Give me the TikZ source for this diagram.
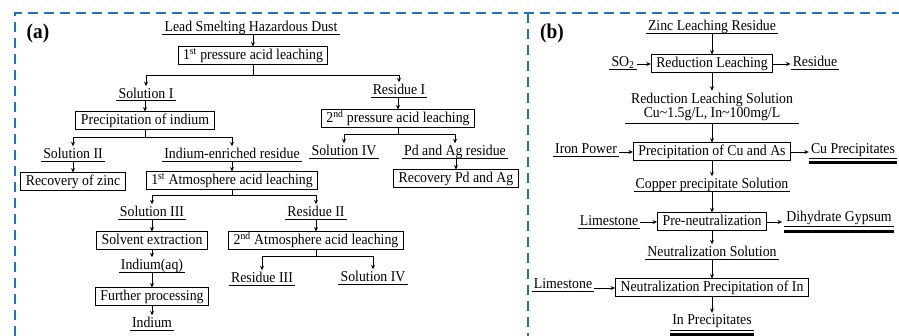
\documentclass[tikz,border=0pt]{standalone}
\usepackage{fontspec}
\setmainfont{Liberation Serif}[FakeStretch=0.92]
\usetikzlibrary{arrows.meta,calc}
\definecolor{framecol}{RGB}{31,113,196}
\begin{document}
\begin{tikzpicture}[x=1pt,y=-1pt,
  font=\fontsize{15}{13}\selectfont,
  box/.style={draw,line width=1pt,inner xsep=5pt,inner ysep=2.5pt,text height=10.5pt,text depth=2.5pt,anchor=center},
  ul/.style={anchor=base,inner xsep=2pt,inner ysep=0pt,text height=12pt,text depth=2.4pt,
    append after command={(\tikzlastnode.south west) edge[line width=0.9pt] (\tikzlastnode.south east)}},
  dul/.style={anchor=base,inner xsep=2pt,inner ysep=2.5pt,text height=9.5pt,text depth=2.4pt,
    append after command={(\tikzlastnode.south west) edge[line width=0.7pt] (\tikzlastnode.south east)
      ([yshift=-4.5pt]\tikzlastnode.south west) edge[line width=3pt] ([yshift=-4.5pt]\tikzlastnode.south east)}},
  arr/.style={line width=0.9pt,-{Stealth[length=4.5pt,width=4pt]}},
  frame/.style={framecol,line width=2.2pt,dash pattern=on 10pt off 6pt},
  tag/.style={font=\fontsize{21}{24}\selectfont\bfseries}
]
\path[use as bounding box] (0,0) rectangle (899,336);
% frame
\draw[frame] (15,336) -- (15,13) -- (899,13);
\draw[frame] (528,13) -- (528,336);

% ---------- panel (a) ----------
\node[tag] (ta) at (38,33) {(a)};
\node[ul] (lead) at (251,31.5) {Lead Smelting Hazardous Dust};
\node[box] (b1) at (253,56) {1\textsuperscript{st} pressure acid leaching};
\node[ul] (sol1) at (146,98.3) {Solution I};
\node[ul] (res1) at (399,94.5) {Residue I};
\node[box] (p1) at (145,121) {Precipitation of indium};
\node[ul] (sol2) at (73,158.5) {Solution II};
\node[ul] (ier) at (232,158.5) {Indium-enriched residue};
\node[box] (rz) at (73,182) {Recovery of zinc};
\node[box] (a1) at (232,181) {1\textsuperscript{st} Atmosphere acid leaching};
\node[ul] (sol3) at (152,216.5) {Solution III};
\node[ul] (res2) at (316,216.5) {Residue II};
\node[box] (se) at (152,241) {Solvent extraction};
\node[box] (a2) at (316,241) {2\textsuperscript{nd} Atmosphere acid leaching};
\node[ul] (inaq) at (152,269.5) {Indium(aq)};
\node[ul] (res3) at (262,282.5) {Residue III};
\node[ul] (sol4b) at (373,281.5) {Solution IV};
\node[box] (fp) at (152,297) {Further processing};
\node[ul] (ind) at (152,327.5) {Indium};
\node[box] (b2) at (398,119) {2\textsuperscript{nd} pressure acid leaching};
\node[ul] (sol4) at (344,155.5) {Solution IV};
\node[ul] (pdag) at (455,155.5) {Pd and Ag residue};
\node[box] (rpa) at (456,179) {Recovery Pd and Ag};

\draw[arr] (lead.south -| b1.north) -- (b1.north);
\draw[arr] (b1.south) -- ++(0,10) -| (sol1.north);
\draw[arr] (b1.south) -- ++(0,10) -| (res1.north);
\draw[arr] (sol1.south -| p1.north) -- (p1.north);
\draw[arr] (p1.south) -- ++(0,7) -| (sol2.north);
\draw[arr] (p1.south) -- ++(0,7) -| (ier.north);
\draw[arr] (sol2.south) -- (rz.north);
\draw[arr] (ier.south) -- (a1.north);
\draw[arr] (a1.south) -- ++(0,5) -| (sol3.north);
\draw[arr] (a1.south) -- ++(0,5) -| (res2.north);
\draw[arr] (sol3.south) -- (se.north);
\draw[arr] (se.south) -- (inaq.north);
\draw[arr] (inaq.south) -- (fp.north);
\draw[arr] (fp.south) -- (ind.north);
\draw[arr] (res2.south) -- (a2.north);
\draw[arr] (a2.south) -- ++(0,6) -| (res3.north);
\draw[arr] (a2.south) -- ++(0,6) -| (sol4b.north);
\draw[arr] (res1.south -| b2.north) -- (b2.north);
\draw[arr] (b2.south) -- ++(0,6) -| (sol4.north);
\draw[arr] (b2.south) -- ++(0,6) -| (pdag.north);
\draw[arr] (pdag.south -| rpa.north) -- (rpa.north);

% ---------- panel (b) ----------
\node[tag] (tb) at (552,33) {(b)};
\node[ul] (zlr) at (712,30.5) {Zinc Leaching Residue};
\node[box] (rl) at (712,64) {Reduction Leaching};
\node[ul] (so2) at (623,66.5) {SO\textsubscript{2}};
\node[ul] (resid) at (815,66.5) {Residue};
\node[anchor=south,align=center,inner xsep=6pt,inner ysep=2pt,
  append after command={(\tikzlastnode.south west) edge[line width=0.9pt] (\tikzlastnode.south east)}]
  (rls) at (712,123) {Reduction Leaching Solution\\Cu\textasciitilde 1.5g/L, In\textasciitilde 100mg/L};
\node[box] (pca) at (712,152) {Precipitation of Cu and As};
\node[ul] (iron) at (586,153.5) {Iron Power};
\node[dul] (cup) at (853,153.3) {Cu Precipitates};
\node[ul] (cps) at (712,188.5) {Copper precipitate Solution};
\node[box] (pn) at (712,222) {Pre-neutralization};
\node[ul] (lime1) at (609,225.5) {Limestone};
\node[dul] (dg) at (839,221.5) {Dihydrate Gypsum};
\node[ul] (ns) at (712,256.5) {Neutralization Solution};
\node[box] (npi) at (712,288) {Neutralization Precipitation of In};
\node[ul] (lime2) at (563,288.5) {Limestone};
\node[dul] (inp) at (712,325) {In Precipitates};

\draw[arr] (zlr.south) -- (rl.north);
\draw[arr] (so2.east |- rl.west) -- (rl.west);
\draw[arr] (rl.east) -- (resid.west |- rl.east);
\draw[arr] (rl.south) -- (rls.north);
\draw[arr] (rls.south) -- (pca.north);
\draw[arr] (iron.east |- pca.west) -- (pca.west);
\draw[arr] (pca.east) -- (cup.west |- pca.east);
\draw[arr] (pca.south) -- (cps.north);
\draw[arr] (cps.south) -- (pn.north);
\draw[arr] (lime1.east |- pn.west) -- (pn.west);
\draw[arr] (pn.east) -- ([xshift=-2pt]dg.west |- pn.east);
\draw[arr] (pn.south) -- (ns.north);
\draw[arr] (ns.south) -- (npi.north);
\draw[arr] (lime2.east |- npi.west) -- (npi.west);
\draw[arr] (npi.south) -- (inp.north);
\end{tikzpicture}
\end{document}
